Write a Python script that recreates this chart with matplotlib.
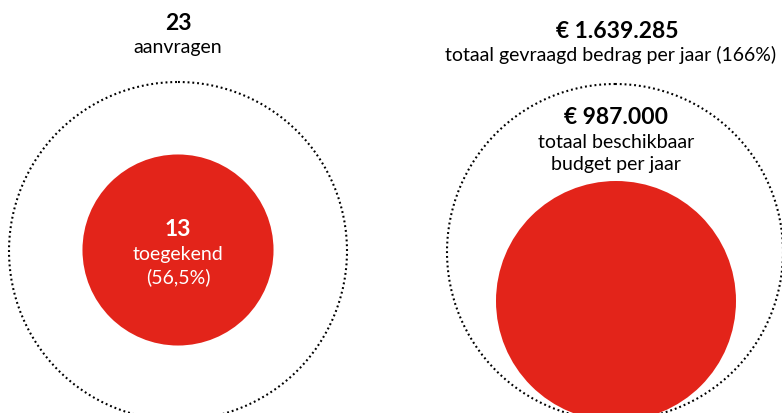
import matplotlib.pyplot as plt
from matplotlib.patches import Circle

# === DATA ===
aanvragen = 23
toegekend = 13
toegekend_pct = "56,5%"
gevraagd = "€ 1.639.285"
gevraagd_pct = "166%"
budget = "€ 987.000"

RED = "#E3241A"
FONT = "Lato"
FS_BOLD = 16.5
FS = 14

fig = plt.figure(figsize=(7.82, 4.14), dpi=100)
ax = fig.add_axes([0, 0, 1, 1])
ax.set_xlim(0, 782)
ax.set_ylim(414, 0)
ax.set_aspect("equal")
ax.axis("off")

dotted = dict(fill=False, edgecolor="black", linewidth=1.5, linestyle=(0, (0.9, 1.4)))

# --- left: aanvragen / toegekend ---
R_OUT = 169
ax.add_patch(Circle((178, 252), R_OUT, **dotted))
ax.add_patch(Circle((178, 251), R_OUT * toegekend / aanvragen, color=RED, lw=0))

ax.text(178, 23, str(aanvragen), ha="center", va="center", fontsize=FS_BOLD,
        fontweight="bold", family=FONT)
ax.text(178, 47, "aanvragen", ha="center", va="center", fontsize=FS, family=FONT)

ax.text(178, 230, str(toegekend), ha="center", va="center", fontsize=FS_BOLD,
        fontweight="bold", color="white", family=FONT)
ax.text(178, 255, "toegekend", ha="center", va="center", fontsize=FS,
        color="white", family=FONT)
ax.text(178, 277, f"({toegekend_pct})", ha="center", va="center", fontsize=FS,
        color="white", family=FONT)

# --- right: gevraagd bedrag / budget ---
ax.add_patch(Circle((615, 253), 168, **dotted))
ax.add_patch(Circle((616, 302), 120, color=RED, lw=0))

ax.text(617, 32, gevraagd, ha="center", va="center", fontsize=FS_BOLD,
        fontweight="bold", family=FONT)
ax.text(611, 55, f"totaal gevraagd bedrag per jaar ({gevraagd_pct})", ha="center",
        va="center", fontsize=FS, family=FONT)

ax.text(616, 118, budget, ha="center", va="center", fontsize=FS_BOLD,
        fontweight="bold", family=FONT)
ax.text(616, 143, "totaal beschikbaar", ha="center", va="center", fontsize=FS,
        family=FONT)
ax.text(616, 165, "budget per jaar", ha="center", va="center", fontsize=FS,
        family=FONT)

fig.savefig("out.png", dpi=100)
